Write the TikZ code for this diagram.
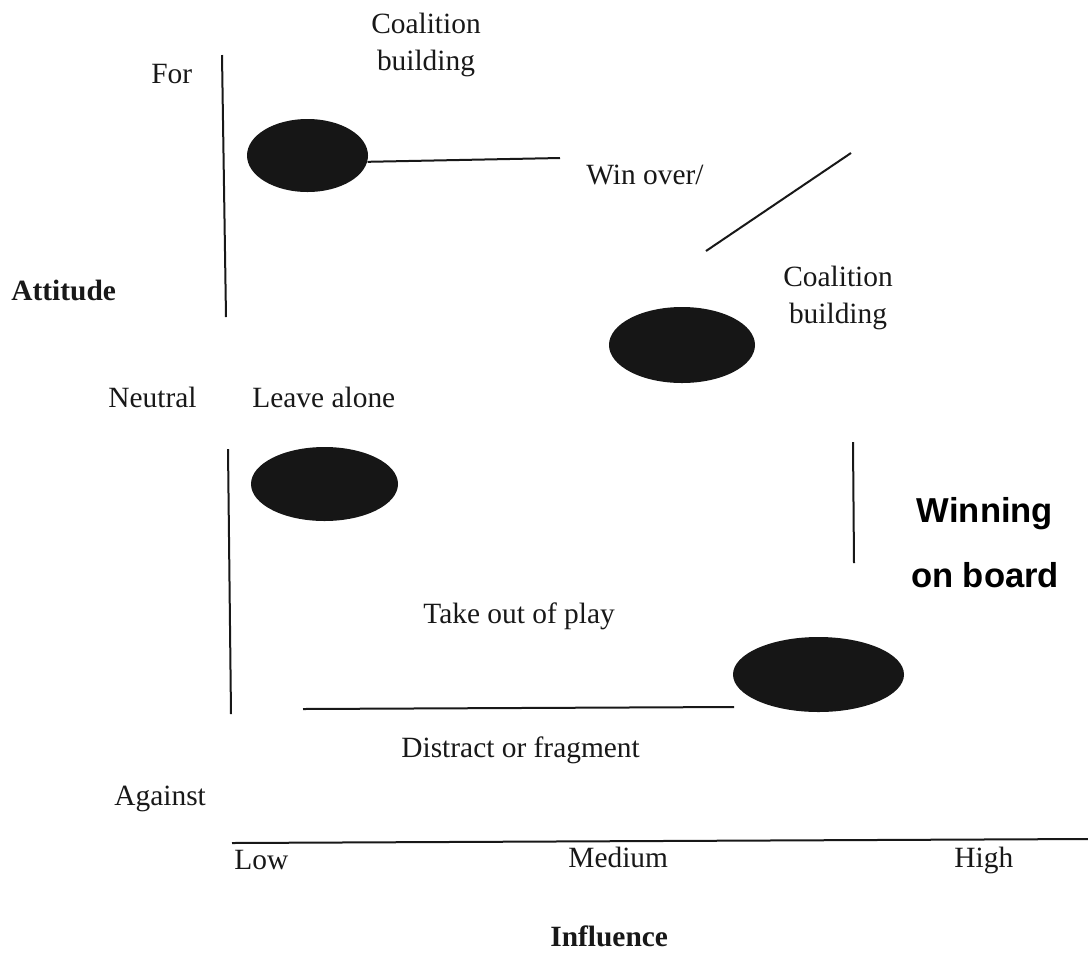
\documentclass[tikz,border=0pt]{standalone}
\usepackage{fontspec}
\setmainfont{Liberation Serif}
\newfontfamily\headsans{Liberation Sans}
\usetikzlibrary{shapes.geometric}
\definecolor{inkfill}{RGB}{22,22,22}
\definecolor{ink}{RGB}{24,24,24}
\begin{document}
\begin{tikzpicture}[x=0.5pt,y=-0.5pt,
  txt/.style={inner sep=0pt, anchor=base west, text=ink,
    font=\fontsize{14.7}{18.5}\selectfont},
  axistitle/.style={txt, font=\fontsize{14.7}{18.5}\selectfont\bfseries},
  twoline/.style={inner sep=0pt, anchor=north, align=center, text=ink,
    font=\fontsize{14.7}{18.5}\selectfont},
  banner/.style={inner sep=0pt, anchor=north, align=center, text=black,
    font=\headsans\bfseries\fontsize{17.3}{32.5}\selectfont},
  blob/.style={ellipse, fill=inkfill, draw=none, inner sep=0pt},
  rule/.style={draw=ink, line width=1pt}]

\useasboundingbox (0,0) rectangle (1088,955);

% stakeholder blobs
\node[blob, minimum width=60.5pt, minimum height=36.5pt] (e1) at (307.5,155.5) {};
\node[blob, minimum width=73pt,   minimum height=38pt]   (e2) at (682,345) {};
\node[blob, minimum width=73.5pt, minimum height=37pt]   (e3) at (324.5,484) {};
\node[blob, minimum width=85.5pt, minimum height=37.5pt] (e4) at (818.5,674.5) {};

% attitude scale
\node[txt] (for) at (151,83) {For};
\node[axistitle] (attitude) at (11,300) {Attitude};
\node[txt] (neutral) at (108,407) {Neutral};
\node[txt] (against) at (114,805) {Against};

% influence scale
\node[txt] (low) at (234,869) {Low};
\node[txt] (medium) at (568,867) {Medium};
\node[txt] (high) at (954,867) {High};
\node[axistitle] (influence) at (550,946) {Influence};

% strategy labels
\node[twoline] (coal1) at (426,13) {Coalition\\building};
\node[txt] (winover) at (586,184) {Win over/};
\node[twoline] (coal2) at (838,266) {Coalition\\building};
\node[txt] (leave) at (252,407) {Leave alone};
\node[txt] (takeout) at (423,623) {Take out of play};
\node[txt] (distract) at (401,757) {Distract or fragment};
\node[banner] (winning) at (985,497) {Winning\\on board};

% dividing strokes
\coordinate (w1) at (560,158);
\draw[rule] (e1.-6) -- (w1);

\coordinate (d1) at (706,251);
\coordinate (d2) at (851,153);
\draw[rule] (d1) -- (d2);

\coordinate (v1a) at (222,55);
\coordinate (v1b) at (226,317);
\draw[rule] (v1a) -- (v1b);

\coordinate (v2a) at (228,449);
\coordinate (v2b) at (231,714);
\draw[rule] (v2a) -- (v2b);

\coordinate (v3a) at (853,442);
\coordinate (v3b) at (854,563);
\draw[rule] (v3a) -- (v3b);

\coordinate (h1a) at (303,709);
\coordinate (h1b) at (734,707);
\draw[rule] (h1a) -- (h1b);

% influence axis
\coordinate (ax1) at (232,843);
\coordinate (ax2) at (1088,839);
\draw[rule] (ax1) -- (ax2);

\end{tikzpicture}
\end{document}
